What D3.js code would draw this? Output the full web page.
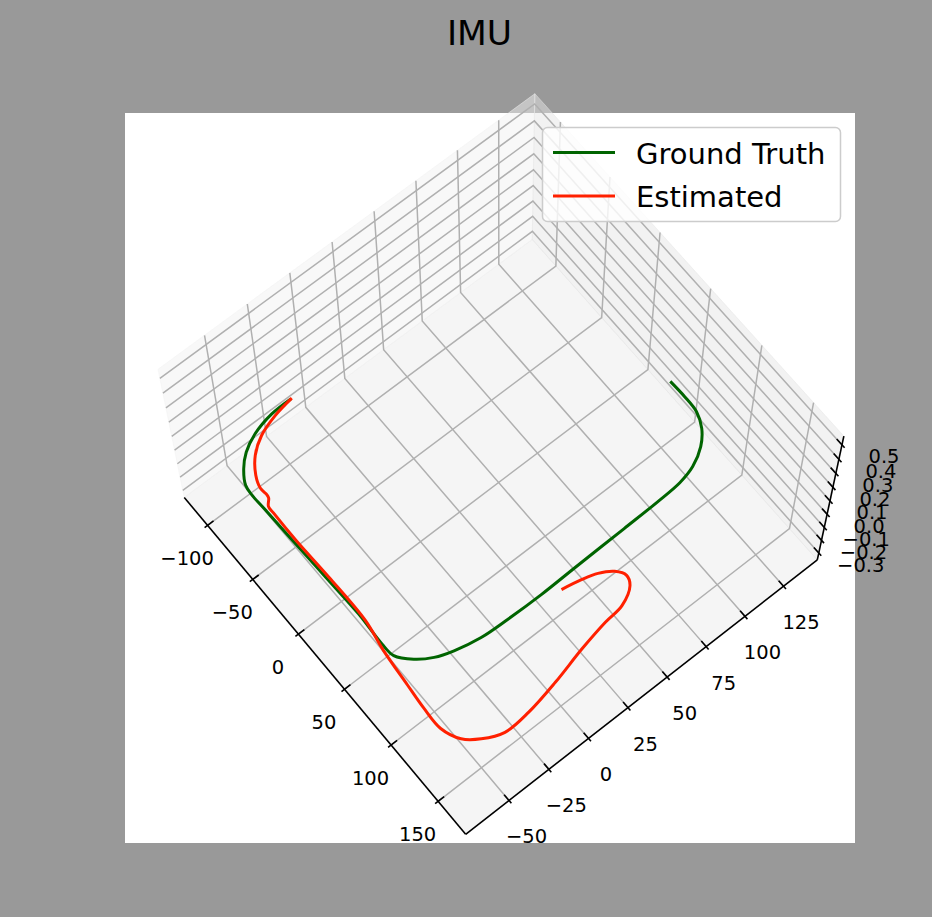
<!DOCTYPE html>
<html><head><meta charset="utf-8">
<script src="https://cdn.jsdelivr.net/npm/d3@7"></script>
<style>body{margin:0;background:#999999;} svg{display:block;font-family:"DejaVu Sans",sans-serif;}</style>
</head><body>
<svg id="chart" width="932" height="917"></svg>
<script>
// ---------------- data ----------------
const chartTitle = "IMU";
const seriesNames = ["Ground Truth", "Estimated"];

// Ground truth trajectory (x, y); drawn at z = 0
const gtX = [-106.5, -106.0, -101.7, -95.1, -86.9, -76.9, -68.8, -53.7, -26.8, 6.6, 39.9, 65.6, 76.6, 86.7, 94.0, 98.6, 102.6, 103.8, 104.3, 103.7, 103.0, 102.4, 101.3, 97.9, 90.4, 80.9, 69.7, 56.5, 42.1];
const gtY = [-16.8, -28.8, -41.6, -50.7, -56.9, -61.4, -62.1, -61.7, -61.2, -60.4, -59.7, -60.4, -59.7, -53.4, -45.3, -35.9, -21.7, -6.0, 14.4, 35.1, 66.4, 87.3, 102.3, 112.5, 122.2, 128.7, 132.3, 132.9, 132.6];

// Estimated trajectory (x, y); drawn at z = 0
const estX = [-106.5, -103.6, -98.1, -89.6, -78.3, -69.1, -62.8, -60.3, -55.8, -50.1, -25.4, 7.9, 46.2, 69.8, 97.2, 116.5, 134.2, 147.8, 156.0, 162.2, 161.3, 156.4, 149.7, 145.2, 143.2, 135.9, 129.0, 122.0, 116.2, 112.8, 109.9];
const estY = [-16.2, -28.1, -39.6, -48.3, -54.4, -56.8, -56.4, -56.8, -59.5, -59.7, -59.9, -59.2, -59.2, -61.9, -63.7, -64.9, -65.0, -60.7, -53.3, -42.6, -27.6, -8.3, 12.0, 29.1, 40.6, 50.0, 52.1, 49.0, 42.1, 33.9, 23.3];
const trackZ = 0;

const xTicks = [-100, -50, 0, 50, 100, 150];
const yTicks = [-50, -25, 0, 25, 50, 75, 100, 125];
const zTicks = [-0.3, -0.2, -0.1, 0.0, 0.1, 0.2, 0.3, 0.4, 0.5];
const xLim = [-126, 179];
const yLim = [-77, 147];
const zLim = [-0.355, 0.56];

// ---------------- projection (matplotlib-like 3D) ----------------
const elev = 69, azim = -39, dist = 10, focal = 1;
let aspect = [4, 4, 3];
const an = Math.hypot(...aspect);
aspect = aspect.map(a => a * 1.8294640721620434 / an);
const wx = d3.scaleLinear().domain(xLim).range([0, aspect[0]]);
const wy = d3.scaleLinear().domain(yLim).range([0, aspect[1]]);
const wz = d3.scaleLinear().domain(zLim).range([0, aspect[2]]);
const Rc = aspect.map(a => a / 2);
const er = elev * Math.PI / 180, ar = azim * Math.PI / 180;
const W3 = [Math.cos(er) * Math.cos(ar), Math.cos(er) * Math.sin(ar), Math.sin(er)];
const U3 = [-Math.sin(ar), Math.cos(ar), 0];
const V3 = [-Math.sin(er) * Math.cos(ar), -Math.sin(er) * Math.sin(ar), Math.cos(er)];
const eye = Rc.map((r, i) => r + dist * focal * W3[i]);
const viewK = 1.038;
const sx = d3.scaleLinear().domain([-0.095 / viewK, 0.09 / viewK]).range([125, 855]);
const sy = d3.scaleLinear().domain([-0.095 / viewK, 0.09 / viewK]).range([843, 113]);
function P(x, y, z) {
  const p = [wx(x), wy(y), wz(z)];
  const d = p.map((c, i) => c - eye[i]);
  const dot = a => a[0] * d[0] + a[1] * d[1] + a[2] * d[2];
  const X = dot(U3), Y = dot(V3), Z = dot(W3);
  return [sx(focal * X / -Z), sy(focal * Y / -Z)];
}

const svg = d3.select("#chart");
svg.append("rect").attr("width", 932).attr("height", 917).attr("fill", "#999999");
svg.append("rect").attr("x", 125).attr("y", 113).attr("width", 730).attr("height", 730).attr("fill", "#ffffff");

const [x0, x1] = xLim, [y0, y1] = yLim, [z0, z1] = zLim;
const poly = pts => pts.map(p => P(...p).join(",")).join(" ");

// panes
svg.append("polygon").attr("points", poly([[x0,y0,z0],[x1,y0,z0],[x1,y1,z0],[x0,y1,z0]]))
  .attr("fill", "rgb(236,236,236)").attr("fill-opacity", 0.5).attr("stroke", "rgb(236,236,236)").attr("stroke-opacity", 0.5);
svg.append("polygon").attr("points", poly([[x0,y0,z0],[x0,y1,z0],[x0,y1,z1],[x0,y0,z1]]))
  .attr("fill", "rgb(242,242,242)").attr("fill-opacity", 0.5).attr("stroke", "rgb(242,242,242)").attr("stroke-opacity", 0.5);
svg.append("polygon").attr("points", poly([[x0,y1,z0],[x1,y1,z0],[x1,y1,z1],[x0,y1,z1]]))
  .attr("fill", "rgb(230,230,230)").attr("fill-opacity", 0.5).attr("stroke", "rgb(230,230,230)").attr("stroke-opacity", 0.5);

// grid
const grid = svg.append("g").attr("fill", "none").attr("stroke", "#b0b0b0").attr("stroke-width", 1.5);
const pl = pts => "M" + pts.map(p => P(...p).join(",")).join("L");
xTicks.forEach(t => grid.append("path").attr("d", pl([[t,y0,z0],[t,y1,z0],[t,y1,z1]])));
yTicks.forEach(t => grid.append("path").attr("d", pl([[x0,t,z1],[x0,t,z0],[x1,t,z0]])));
zTicks.forEach(t => grid.append("path").attr("d", pl([[x1,y1,t],[x0,y1,t],[x0,y0,t]])));

// axes
const ax = svg.append("g").attr("stroke", "#000").attr("stroke-width", 1.6).attr("fill", "none");
ax.append("path").attr("d", pl([[x0,y0,z0],[x1,y0,z0]]));
ax.append("path").attr("d", pl([[x1,y0,z0],[x1,y1,z0]]));
ax.append("path").attr("d", pl([[x1,y1,z0],[x1,y1,z1]]));
const dX = (x1 - x0) / 12, dY = (y1 - y0) / 12;
xTicks.forEach(t => ax.append("path").attr("d", pl([[t, y0 - 0.1 * dY, z0],[t, y0 + 0.2 * dY, z0]])));
yTicks.forEach(t => ax.append("path").attr("d", pl([[x1 + 0.1 * dX, t, z0],[x1 - 0.2 * dX, t, z0]])));
zTicks.forEach(t => ax.append("path").attr("d", pl([[x1 + 0.1 * dX, y1, t],[x1 - 0.2 * dX, y1, t]])));

const fmt = (v, d) => (v < 0 ? "\u2212" : "") + Math.abs(v).toFixed(d);
const lab = svg.append("g").attr("font-size", 19.5).attr("fill", "#000")
  .attr("text-anchor", "middle").attr("dominant-baseline", "central");
xTicks.forEach(t => { const p = P(t, y0, z0); lab.append("text").attr("x", p[0] - 20.5).attr("y", p[1] + 33.5).text(fmt(t, 0)); });
yTicks.forEach(t => { const p = P(x1, t, z0); lab.append("text").attr("x", p[0] + 17.5).attr("y", p[1] + 36.5).text(fmt(t, 0)); });
zTicks.forEach(t => { const p = P(x1, y1, t); lab.append("text").attr("x", p[0] + 42).attr("y", p[1] + 12).text(fmt(t, 1)); });

// data lines
const line = d3.line().curve(d3.curveCatmullRom.alpha(0.5));
const gtPts = gtX.map((x, i) => P(x, gtY[i], trackZ));
const estPts = estX.map((x, i) => P(x, estY[i], trackZ));
svg.append("path").attr("d", line(gtPts)).attr("fill", "none").attr("stroke", "#006400").attr("stroke-width", 3);
svg.append("path").attr("d", line(estPts)).attr("fill", "none").attr("stroke", "#ff2000").attr("stroke-width", 3);

// legend
const lg = svg.append("g");
lg.append("rect").attr("x", 542.5).attr("y", 127.5).attr("width", 298).attr("height", 94).attr("rx", 5)
  .attr("fill", "#fff").attr("fill-opacity", 0.8).attr("stroke", "#cccccc").attr("stroke-width", 1.5);
const legColors = ["#006400", "#ff2000"];
seriesNames.forEach((nm, i) => {
  const yy = 152.5 + i * 43.5;
  lg.append("line").attr("x1", 553).attr("x2", 615).attr("y1", yy).attr("y2", yy).attr("stroke", legColors[i]).attr("stroke-width", 3);
  lg.append("text").attr("x", 636).attr("y", yy + 11).attr("font-size", 29).attr("fill", "#000").text(nm);
});

// title
svg.append("text").attr("x", 479.5).attr("y", 45).attr("text-anchor", "middle").attr("font-size", 34.5).attr("fill", "#000").text(chartTitle);
</script>
</body></html>
